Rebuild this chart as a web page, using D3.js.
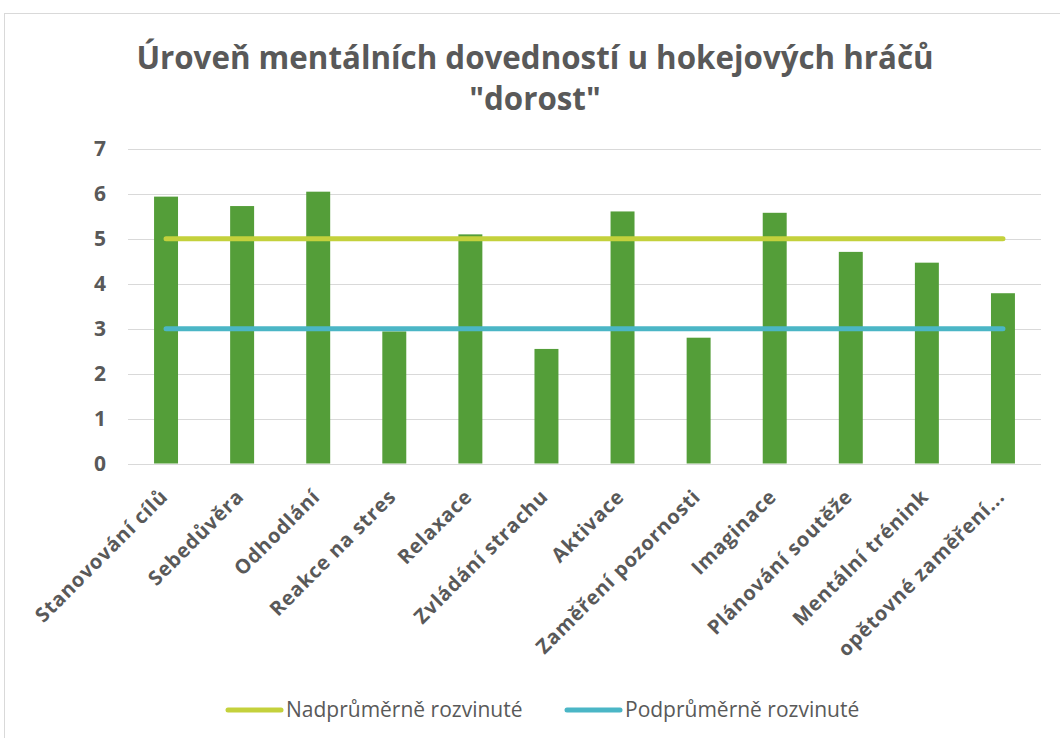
<!DOCTYPE html>
<html>
<head>
<meta charset="utf-8">
<script src="https://cdn.jsdelivr.net/npm/d3@7"></script>
<style>
  body { margin: 0; background: #fff; }
  text { font-family: "Open Sans", sans-serif; fill: #595959; }
</style>
</head>
<body>
<svg id="graf" width="1060" height="738"></svg>
<script>
// data
const kategorie = ["Stanovování cílů", "Sebedůvěra", "Odhodlání", "Reakce na stres", "Relaxace",
  "Zvládání strachu", "Aktivace", "Zaměření pozornosti", "Imaginace", "Plánování soutěže",
  "Mentální trénink", "opětovné zaměření..."];
const hodnoty = [5.94, 5.73, 6.05, 2.94, 5.10, 2.55, 5.61, 2.80, 5.58, 4.71, 4.47, 3.79];
const nadprumer = [5, 5, 5, 5, 5, 5, 5, 5, 5, 5, 5, 5];
const podprumer = [3, 3, 3, 3, 3, 3, 3, 3, 3, 3, 3, 3];
const yTicks = [0, 1, 2, 3, 4, 5, 6, 7];
const nazevRadky = ["Úroveň mentálních dovedností u hokejových hráčů", "\"dorost\""];
const legenda = ["Nadprůměrně rozvinuté", "Podprůměrně rozvinuté"];

const svg = d3.select("#graf");

// ramecek grafu
svg.append("rect")
  .attr("x", 4.5).attr("y", 13.5)
  .attr("width", 1100).attr("height", 800)
  .attr("fill", "none").attr("stroke", "#d9d9d9");

const x = d3.scaleBand().domain(kategorie).range([128, 1041]).paddingInner(0.685).paddingOuter(0.3425);
const y = d3.scaleLinear().domain([0, 7]).range([463.5, 149]);

// nadpis
svg.append("g").selectAll("text")
  .data(nazevRadky)
  .join("text")
  .attr("x", 535)
  .attr("y", (d, i) => 69 + i * 41)
  .attr("text-anchor", "middle")
  .attr("font-size", 31.3)
  .attr("font-weight", "bold")
  .text(d => d);

// mrizka
svg.append("g").selectAll("line")
  .data(yTicks)
  .join("line")
  .attr("x1", 128).attr("x2", 1041)
  .attr("y1", d => Math.round(y(d)) + 0.5).attr("y2", d => Math.round(y(d)) + 0.5)
  .attr("stroke", "#d9d9d9").attr("stroke-width", 1.2);

// osa y
const osaY = svg.append("g")
  .attr("transform", "translate(106,0)")
  .call(d3.axisLeft(y).tickValues(yTicks).tickFormat(d3.format("d")).tickSize(0).tickPadding(0));
osaY.select(".domain").remove();
osaY.selectAll("text")
  .attr("font-size", 21).attr("font-weight", "bold")
  .attr("font-family", "Open Sans").attr("fill", "#595959");

// sloupce
svg.append("g").selectAll("rect")
  .data(hodnoty)
  .join("rect")
  .attr("x", (d, i) => x(kategorie[i]))
  .attr("y", d => y(d))
  .attr("width", x.bandwidth())
  .attr("height", d => y(0) - y(d))
  .attr("fill", "#549e39");

// cary 5 a 3
const cara = d3.line()
  .x((d, i) => x(kategorie[i]) + x.bandwidth() / 2)
  .y(d => y(d));

const serie = [
  { jmeno: legenda[0], data: nadprumer, barva: "#c4d13c" },
  { jmeno: legenda[1], data: podprumer, barva: "#4bb6c6" }
];

svg.append("g").selectAll("path")
  .data(serie)
  .join("path")
  .attr("d", d => cara(d.data))
  .attr("fill", "none")
  .attr("stroke", d => d.barva)
  .attr("stroke-width", 5)
  .attr("stroke-linecap", "round");

// popisky kategorii, otocene
svg.append("g").selectAll("text")
  .data(kategorie)
  .join("text")
  .attr("transform", d => `translate(${x(d) + x.bandwidth() / 2 + 3},498) rotate(-45)`)
  .attr("text-anchor", "end")
  .attr("font-size", 20)
  .attr("letter-spacing", 0.8)
  .attr("font-weight", "bold")
  .text(d => d);

// legenda
const leg = svg.append("g").selectAll("g")
  .data(serie)
  .join("g")
  .attr("transform", (d, i) => `translate(${228 + i * 339},710)`);

leg.append("line")
  .attr("x1", 0).attr("x2", 53)
  .attr("stroke", d => d.barva)
  .attr("stroke-width", 5)
  .attr("stroke-linecap", "round");

leg.append("text")
  .attr("x", 58)
  .attr("y", 7)
  .attr("font-size", 21)
  .text(d => d.jmeno);
</script>
</body>
</html>
